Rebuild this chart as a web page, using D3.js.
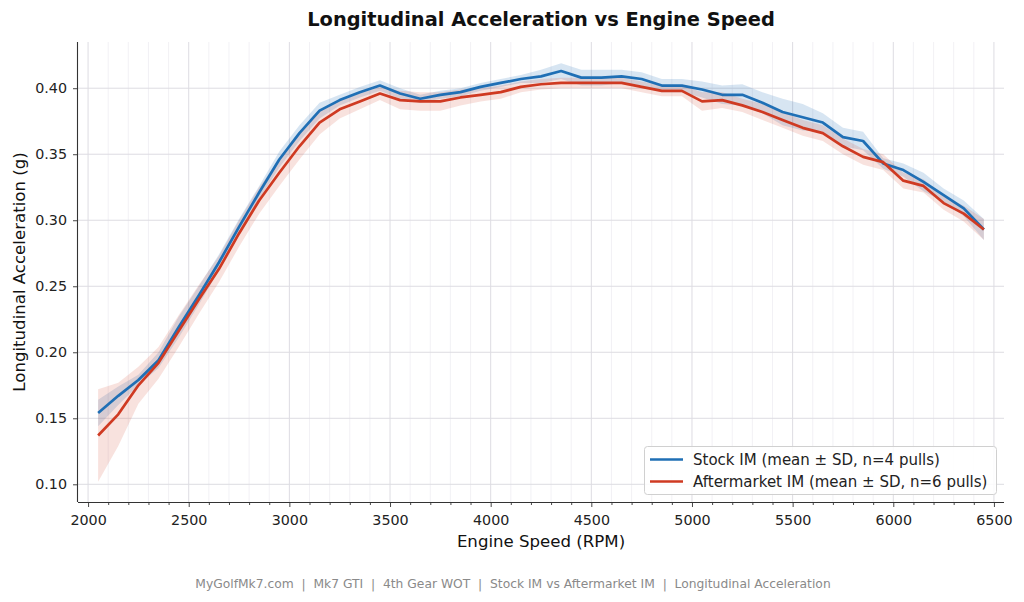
<!DOCTYPE html>
<html>
<head>
<meta charset="utf-8">
<script src="https://cdn.jsdelivr.net/npm/d3@7"></script>
<style>
  html, body { margin: 0; padding: 0; background: #ffffff; }
  svg { display: block; font-family: "DejaVu Sans", sans-serif; }
</style>
</head>
<body>
<svg id="chart" width="1024" height="602"></svg>
<script>
// ---- data ----
const rpm = [2050, 2150, 2250, 2350, 2450, 2550, 2650, 2750, 2850, 2950,
             3050, 3150, 3250, 3350, 3450, 3550, 3650, 3750, 3850, 3950,
             4050, 4150, 4250, 4350, 4450, 4550, 4650, 4750, 4850, 4950,
             5050, 5150, 5250, 5350, 5450, 5550, 5650, 5750, 5850, 5950,
             6050, 6150, 6250, 6350, 6450];

const stockMean = [0.154, 0.167, 0.179, 0.194, 0.219, 0.243, 0.268, 0.295, 0.321, 0.346,
                   0.366, 0.383, 0.391, 0.397, 0.402, 0.396, 0.392, 0.395, 0.397, 0.401,
                   0.404, 0.407, 0.409, 0.413, 0.408, 0.408, 0.409, 0.407, 0.402, 0.402,
                   0.399, 0.395, 0.395, 0.389, 0.382, 0.378, 0.374, 0.363, 0.360, 0.343,
                   0.338, 0.329, 0.319, 0.309, 0.293];
const stockSD = [0.010, 0.007, 0.004, 0.006, 0.008, 0.007, 0.006, 0.006, 0.005, 0.006,
                 0.006, 0.006, 0.004, 0.004, 0.004, 0.004, 0.003, 0.003, 0.003, 0.003,
                 0.003, 0.003, 0.005, 0.006, 0.006, 0.006, 0.005, 0.005, 0.005, 0.005,
                 0.006, 0.007, 0.008, 0.008, 0.010, 0.010, 0.007, 0.007, 0.007, 0.004,
                 0.005, 0.007, 0.005, 0.006, 0.008];

const afterMean = [0.137, 0.153, 0.175, 0.192, 0.216, 0.240, 0.263, 0.290, 0.315, 0.336,
                   0.356, 0.374, 0.384, 0.390, 0.396, 0.391, 0.390, 0.390, 0.393, 0.395,
                   0.397, 0.401, 0.403, 0.404, 0.404, 0.404, 0.404, 0.401, 0.398, 0.398,
                   0.390, 0.391, 0.387, 0.382, 0.376, 0.370, 0.366, 0.356, 0.348, 0.344,
                   0.330, 0.326, 0.313, 0.305, 0.293];
const afterSD = [0.035, 0.024, 0.014, 0.012, 0.012, 0.011, 0.010, 0.010, 0.010, 0.010,
                 0.010, 0.009, 0.007, 0.006, 0.005, 0.007, 0.007, 0.007, 0.006, 0.005,
                 0.005, 0.004, 0.004, 0.004, 0.004, 0.004, 0.004, 0.004, 0.004, 0.004,
                 0.007, 0.006, 0.005, 0.006, 0.006, 0.006, 0.006, 0.006, 0.006, 0.006,
                 0.006, 0.005, 0.005, 0.006, 0.008];

const xTicks = [2000, 2500, 3000, 3500, 4000, 4500, 5000, 5500, 6000, 6500];
const yTicks = [0.10, 0.15, 0.20, 0.25, 0.30, 0.35, 0.40];

const seriesNames = ["Stock IM (mean \u00b1 SD, n=4 pulls)", "Aftermarket IM (mean \u00b1 SD, n=6 pulls)"];
const titleText = "Longitudinal Acceleration vs Engine Speed";
const xLabelText = "Engine Speed (RPM)";
const yLabelText = "Longitudinal Acceleration (g)";
const footerText = "MyGolfMk7.com  |  Mk7 GTI  |  4th Gear WOT  |  Stock IM vs Aftermarket IM  |  Longitudinal Acceleration";

// ---- layout ----
const m = { left: 78, right: 1004, top: 42, bottom: 502 };
const blue = "#1f6fb5", red = "#cf3a22";

const svg = d3.select("#chart");

const x = d3.scaleLinear().domain([1950, 6550]).range([m.left, m.right]);
const y = d3.scaleLinear().domain([0.0866, 0.435]).range([m.bottom, m.top]);

// grid
const grid = svg.append("g");
const minorX = d3.range(2000, 6501, 100).filter(v => v % 500 !== 0);
grid.selectAll("line.mx").data(minorX).enter().append("line")
  .attr("x1", d => x(d)).attr("x2", d => x(d))
  .attr("y1", m.top).attr("y2", m.bottom)
  .attr("stroke", "#efeef2").attr("stroke-width", 0.8);
grid.selectAll("line.Mx").data(xTicks).enter().append("line")
  .attr("x1", d => x(d)).attr("x2", d => x(d))
  .attr("y1", m.top).attr("y2", m.bottom)
  .attr("stroke", "#dddce2").attr("stroke-width", 1);
grid.selectAll("line.My").data(yTicks).enter().append("line")
  .attr("x1", m.left).attr("x2", m.right)
  .attr("y1", d => y(d)).attr("y2", d => y(d))
  .attr("stroke", "#dddce2").attr("stroke-width", 1);

// bands + lines
const series = [
  { mean: stockMean, sd: stockSD, color: blue, op: 0.18 },
  { mean: afterMean, sd: afterSD, color: red, op: 0.15 }
];
const area = d3.area().x(d => x(d.x)).y0(d => y(d.m - d.s)).y1(d => y(d.m + d.s));
const line = d3.line().x(d => x(d.x)).y(d => y(d.m));
series.forEach(s => {
  const pts = rpm.map((r, i) => ({ x: r, m: s.mean[i], s: s.sd[i] }));
  svg.append("path").datum(pts).attr("d", area)
    .attr("fill", s.color).attr("fill-opacity", s.op).attr("stroke", "none");
});
series.forEach(s => {
  const pts = rpm.map((r, i) => ({ x: r, m: s.mean[i], s: s.sd[i] }));
  svg.append("path").datum(pts).attr("d", line)
    .attr("fill", "none").attr("stroke", s.color).attr("stroke-width", 2.7)
    .attr("stroke-linejoin", "round");
});

// axes
const xAxis = svg.append("g").attr("transform", `translate(0,${m.bottom})`)
  .call(d3.axisBottom(x).tickValues(xTicks).tickFormat(d3.format("d")).tickSize(5).tickPadding(8));
const xMinor = svg.append("g").attr("transform", `translate(0,${m.bottom})`)
  .call(d3.axisBottom(x).tickValues(minorX).tickFormat("").tickSize(3));
xMinor.select(".domain").remove();
const yAxis = svg.append("g").attr("transform", `translate(${m.left},0)`)
  .call(d3.axisLeft(y).tickValues(yTicks).tickFormat(d3.format(".2f")).tickSize(5).tickPadding(6));

[xAxis, yAxis, xMinor].forEach(g => {
  g.selectAll("text").attr("font-family", "DejaVu Sans").attr("font-size", 14.3).attr("fill", "#222");
  g.selectAll("line").attr("stroke", "#333").attr("stroke-width", 0.9);
  g.select(".domain").attr("stroke", "#333").attr("stroke-width", 1.1);
});
xAxis.select(".domain").attr("d", `M${m.left},0.5H${m.right}`);
yAxis.select(".domain").attr("d", `M-0.5,${m.top}V${m.bottom}`);

// title & labels
svg.append("text").attr("x", (m.left + m.right) / 2).attr("y", 26)
  .attr("text-anchor", "middle").attr("font-size", 19.4).attr("font-weight", "bold")
  .attr("fill", "#111").text(titleText);
svg.append("text").attr("x", (m.left + m.right) / 2).attr("y", 547)
  .attr("text-anchor", "middle").attr("font-size", 16.6).attr("fill", "#111").text(xLabelText);
svg.append("text").attr("transform", `translate(24.5,${(m.top + m.bottom) / 2}) rotate(-90)`)
  .attr("text-anchor", "middle").attr("font-size", 16.6).attr("fill", "#111").text(yLabelText);
svg.append("text").attr("x", 513).attr("y", 588)
  .attr("text-anchor", "middle").attr("font-size", 12.3).attr("fill", "#8a8a8a")
  .style("white-space", "pre").attr("xml:space", "preserve").text(footerText);

// legend
const lg = svg.append("g");
lg.append("rect").attr("x", 644.5).attr("y", 446.5).attr("width", 352).attr("height", 48)
  .attr("rx", 3).attr("fill", "#ffffff").attr("fill-opacity", 0.85)
  .attr("stroke", "#d0d0d0").attr("stroke-width", 1);
[blue, red].forEach((c, i) => {
  const yy = 459.5 + i * 22;
  lg.append("line").attr("x1", 650).attr("x2", 683).attr("y1", yy).attr("y2", yy)
    .attr("stroke", c).attr("stroke-width", 2.7);
  lg.append("text").attr("x", 693).attr("y", yy + 5.3).attr("font-size", 15)
    .attr("fill", "#222").text(seriesNames[i]);
});
</script>
</body>
</html>
